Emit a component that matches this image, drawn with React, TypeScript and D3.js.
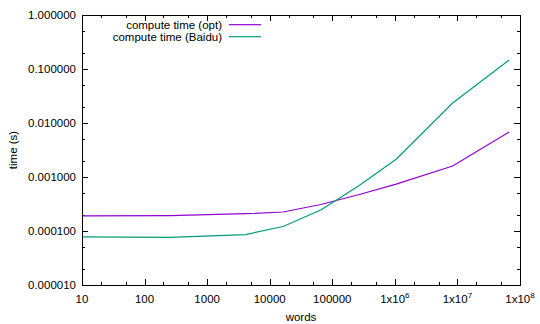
import React, { useEffect, useRef } from "react";
import * as d3 from "d3";

// words (x) for each measurement
const words = [10, 256, 4096, 16384, 65536, 262144, 1048576, 8388608, 67108864];
// compute time in seconds
const timeOpt = [0.00019, 0.000193, 0.000209, 0.000225, 0.00031, 0.00047, 0.00074, 0.0016, 0.0068];
const timeBaidu = [0.000078, 0.000076, 0.000086, 0.000121, 0.000245, 0.00068, 0.00213, 0.0234, 0.147];

const seriesNames = ["compute time (opt)", "compute time (Baidu)"];
const seriesColors = ["#9400d3", "#009e73"];

const xTicks = [10, 100, 1000, 10000, 100000, 1e6, 1e7, 1e8];
const xTickLabels = ["10", "100", "1000", "10000", "100000", "1x10|6", "1x10|7", "1x10|8"];
const yTicks = [0.00001, 0.0001, 0.001, 0.01, 0.1, 1];
const yTickLabels = ["0.000010", "0.000100", "0.001000", "0.010000", "0.100000", "1.000000"];

const App = () => {
  const svgRef = useRef<SVGSVGElement>(null);

  useEffect(() => {
    const w = 540;
    const h = 324;
    const left = 82, right = 520, top = 15, bottom = 285;
    const font = "Liberation Sans, Arial, sans-serif";
    const fs = 11.5;

    const svg = d3.select(svgRef.current).attr("width", w).attr("height", h);
    svg.selectAll("*").remove();

    const x = d3.scaleLog().domain([10, 1e8]).range([left, right]);
    const y = d3.scaleLog().domain([0.00001, 1]).range([bottom, top]);

    // minor ticks at 2 and 5 of each decade
    const xMinor: number[] = [];
    xTicks.slice(0, -1).forEach(t => xMinor.push(t * 2, t * 5));
    const yMinor: number[] = [];
    yTicks.slice(0, -1).forEach(t => yMinor.push(t * 2, t * 5));

    const g = svg.append("g").attr("stroke", "#000").attr("stroke-width", 1);

    // x ticks, bottom and mirrored on top
    xTicks.forEach(t => {
      const px = Math.round(x(t)) + 0.5;
      g.append("line").attr("x1", px).attr("x2", px).attr("y1", bottom).attr("y2", bottom - 6);
      g.append("line").attr("x1", px).attr("x2", px).attr("y1", top).attr("y2", top + 6);
    });
    xMinor.forEach(t => {
      const px = Math.round(x(t)) + 0.5;
      g.append("line").attr("x1", px).attr("x2", px).attr("y1", bottom).attr("y2", bottom - 3);
      g.append("line").attr("x1", px).attr("x2", px).attr("y1", top).attr("y2", top + 3);
    });
    // y ticks, left and mirrored on right
    yTicks.forEach(t => {
      const py = Math.round(y(t)) + 0.5;
      g.append("line").attr("x1", left).attr("x2", left + 6).attr("y1", py).attr("y2", py);
      g.append("line").attr("x1", right).attr("x2", right - 6).attr("y1", py).attr("y2", py);
    });
    yMinor.forEach(t => {
      const py = Math.round(y(t)) + 0.5;
      g.append("line").attr("x1", left).attr("x2", left + 3).attr("y1", py).attr("y2", py);
      g.append("line").attr("x1", right).attr("x2", right - 3).attr("y1", py).attr("y2", py);
    });

    // tick labels
    svg.selectAll(".ylab")
      .data(yTicks)
      .join("text")
      .attr("x", left - 6)
      .attr("y", d => y(d) + 4)
      .attr("text-anchor", "end")
      .attr("font-family", font)
      .attr("font-size", fs)
      .text((d, i) => yTickLabels[i]);

    xTicks.forEach((t, i) => {
      const [base, sup] = xTickLabels[i].split("|");
      const txt = svg.append("text")
        .attr("x", x(t))
        .attr("y", bottom + 18)
        .attr("text-anchor", "middle")
        .attr("font-family", font)
        .attr("font-size", fs);
      txt.append("tspan").text(base);
      if (sup) {
        txt.append("tspan").attr("dy", -5).attr("font-size", 8).text(sup);
      }
    });

    // axis titles
    svg.append("text")
      .attr("x", (left + right) / 2)
      .attr("y", 321)
      .attr("text-anchor", "middle")
      .attr("font-family", font)
      .attr("font-size", fs)
      .text("words");
    svg.append("text")
      .attr("transform", `translate(17,${(top + bottom) / 2}) rotate(-90)`)
      .attr("text-anchor", "middle")
      .attr("font-family", font)
      .attr("font-size", fs)
      .text("time (s)");

    // lines
    const line = d3.line<number>()
      .x((d, i) => x(words[i]))
      .y(d => y(d));

    [timeOpt, timeBaidu].forEach((s, i) => {
      svg.append("path")
        .datum(s)
        .attr("d", line)
        .attr("fill", "none")
        .attr("stroke", seriesColors[i])
        .attr("stroke-width", 1.2);
    });

    // legend
    seriesNames.forEach((name, i) => {
      const ly = 24.7 + i * 12;
      svg.append("text")
        .attr("x", 222)
        .attr("y", ly + 4)
        .attr("text-anchor", "end")
        .attr("font-family", font)
        .attr("font-size", fs)
        .text(name);
      svg.append("line")
        .attr("x1", 229).attr("x2", 261)
        .attr("y1", ly).attr("y2", ly)
        .attr("stroke", seriesColors[i])
        .attr("stroke-width", 1.2);
    });

    // border
    svg.append("rect")
      .attr("x", left + 0.5)
      .attr("y", top + 0.5)
      .attr("width", right - left)
      .attr("height", bottom - top)
      .attr("fill", "none")
      .attr("stroke", "#000")
      .attr("stroke-width", 1);
  }, []);

  return (
    <svg ref={svgRef} style={{ position: "absolute", left: 0, top: 0, background: "#fff" }}></svg>
  );
};

export default App;
